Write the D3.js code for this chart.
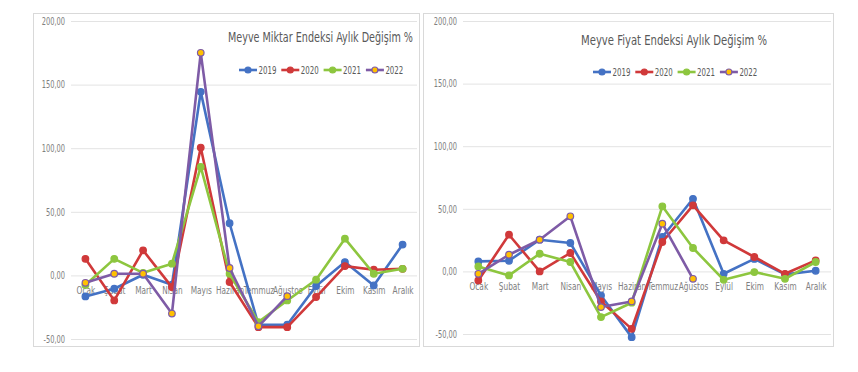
<!DOCTYPE html>
<html>
<head>
<meta charset="utf-8">
<script src="https://cdn.jsdelivr.net/npm/d3@7"></script>
<style>
  body { margin: 0; background: #fff; }
  svg text { font-family: "DejaVu Sans Condensed", "Liberation Sans Narrow", "Liberation Sans", sans-serif; }
</style>
</head>
<body>
<div class="app"></div>
<script>
// months and years
var months = ["Ocak","Şubat","Mart","Nisan","Mayıs","Haziran","Temmuz","Ağustos","Eylül","Ekim","Kasım","Aralık"];
var years = ["2019","2020","2021","2022"];
var yTicks = [-50, 0, 50, 100, 150, 200];

// Meyve Miktar Endeksi
var miktar2019 = [-16.5,-10.5,0.5,-7.3,144.3,41,-38.8,-38.8,-8.4,10.5,-7.9,24.2];
var miktar2020 = [13,-19.7,19.7,-9.2,100.5,-5.2,-40.7,-40.7,-17,7.3,4.5,5.2];
var miktar2021 = [-7.5,13,2,9.2,85.3,1.3,-36.7,-19.7,-3.4,28.9,1.3,5.2];
var miktar2022 = [-5.8,1.3,1.3,-30,175,5.8,-40,-16.3];

// Meyve Fiyat Endeksi
var fiyat2019 = [8,8.5,25.3,22.7,-19.2,-52.5,27.5,58,-1.9,10,-2.4,0.5];
var fiyat2020 = [-7.2,29.3,0,14.7,-24,-45.9,23.5,52.8,24.8,11.5,-1.9,8.8];
var fiyat2021 = [4,-3.2,14.1,7.5,-36.5,-25,52,18.7,-6.7,-0.5,-5.9,7.5];
var fiyat2022 = [-1.9,13.3,25.3,44,-28.5,-24,38.1,-5.9];

var lineColors = ["#4472C4","#D0393A","#8DC63F","#7E5BA6"];
var markerFill = ["#4472C4","#D0393A","#8DC63F","#FFC000"];

var fmt = d3.formatLocale({decimal: ",", thousands: ".", grouping: [3], currency: ["", ""], minus: "-"}).format(".2f");

var svg = d3.select(".app").append("svg").attr("width", 858).attr("height", 372);

// squeeze text horizontally to look like the narrow Office font
function condense(sel, k) {
    sel.each(function () {
        var w = this.getComputedTextLength();
        d3.select(this).attr("textLength", w * k).attr("lengthAdjust", "spacingAndGlyphs");
    });
}

function drawPanel(opt, series) {
    var g = svg.append("g");
    g.append("rect").attr("x", opt.box[0] + 0.5).attr("y", opt.box[1] + 0.5)
        .attr("width", opt.box[2] - opt.box[0]).attr("height", opt.box[3] - opt.box[1])
        .attr("fill", "#fff").attr("stroke", "#d9d9d9");

    var x = d3.scalePoint().domain(months).range([opt.plot[0], opt.plot[1]]).padding(0.5);
    var y = d3.scaleLinear().domain([-50, 200]).range([opt.plot[3], opt.plot[2]]);

    var ya = g.append("g").attr("transform", "translate(" + opt.plot[0] + ",0)")
        .call(d3.axisLeft(y).tickValues(yTicks).tickFormat(fmt).tickSize(-(opt.plot[1] - opt.plot[0])).tickPadding(opt.plot[0] - opt.labelX));
    ya.select(".domain").remove();
    ya.selectAll("line").attr("stroke", "#e3e3e3");
    ya.selectAll("text").attr("fill", "#808080").style("font-size", "10px").call(condense, 0.74);

    var xa = g.append("g").attr("transform", "translate(0," + y(0) + ")")
        .call(d3.axisBottom(x).tickSize(0).tickPadding(11));
    xa.select(".domain").remove();
    xa.selectAll("text").attr("fill", "#808080").style("font-size", "10.5px").call(condense, 0.78);

    var line = d3.line().x(function (d, i) { return x(months[i]); }).y(function (d) { return y(d); });

    series.forEach(function (s, k) {
        g.append("path").datum(s).attr("d", line).attr("fill", "none")
            .attr("stroke", lineColors[k]).attr("stroke-width", 2.6).attr("stroke-linejoin", "round");
        g.selectAll(".m" + k).data(s).enter().append("circle")
            .attr("cx", function (d, i) { return x(months[i]); }).attr("cy", function (d) { return y(d); })
            .attr("r", 3.3).attr("fill", markerFill[k]).attr("stroke", lineColors[k]).attr("stroke-width", 1.2);
    });

    g.append("text").attr("x", opt.title[0]).attr("y", opt.title[1]).text(opt.titleText)
        .attr("fill", "#595959").style("font-size", "14.5px")
        .attr("textLength", opt.title[2]).attr("lengthAdjust", "spacingAndGlyphs");

    years.forEach(function (yr, k) {
        var lx = opt.legend[0] + k * 42.3, ly = opt.legend[1];
        g.append("line").attr("x1", lx).attr("x2", lx + 18).attr("y1", ly).attr("y2", ly)
            .attr("stroke", lineColors[k]).attr("stroke-width", 2.6);
        g.append("circle").attr("cx", lx + 9).attr("cy", ly).attr("r", 3)
            .attr("fill", markerFill[k]).attr("stroke", lineColors[k]).attr("stroke-width", 1.2);
        g.append("text").attr("x", lx + 19.5).attr("y", ly + 3.5).text(yr)
            .attr("fill", "#595959").style("font-size", "10px").call(condense, 0.78);
    });
}

drawPanel({
    box: [33, 13, 419, 346], plot: [71, 417, 21, 339], labelX: 65,
    title: [228, 42, 185], titleText: "Meyve Miktar Endeksi Aylık Değişim %",
    legend: [239, 70]
}, [miktar2019, miktar2020, miktar2021, miktar2022]);

drawPanel({
    box: [423, 13, 833, 346], plot: [463, 831, 21, 334], labelX: 457,
    title: [581, 45, 186], titleText: "Meyve Fiyat Endeksi Aylık Değişim %",
    legend: [593, 72]
}, [fiyat2019, fiyat2020, fiyat2021, fiyat2022]);
</script>
</body>
</html>
